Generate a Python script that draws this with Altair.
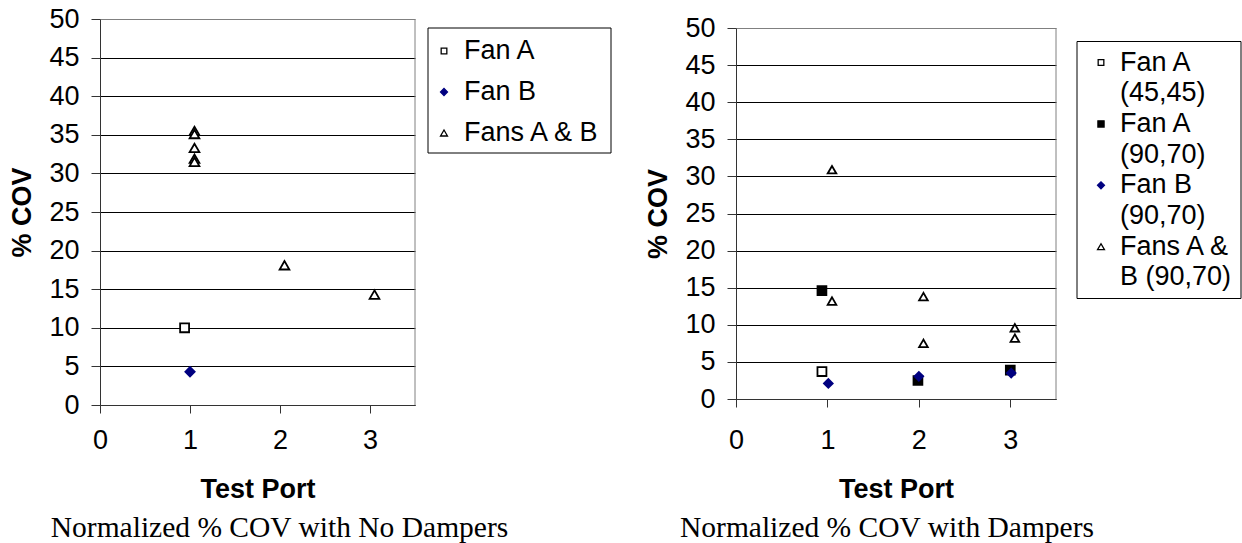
import altair as alt
import pandas as pd

# ---------------- data ----------------
# Left panel: Normalized % COV with No Dampers
left_series = ["Fan A", "Fan B", "Fans A & B"]
left_fan_a_port = [0.94]
left_fan_a_cov = [10.0]
left_fan_b_port = [1.0]
left_fan_b_cov = [4.3]
left_fans_ab_port = [1.05, 1.05, 1.05, 1.05, 1.05, 2.05, 3.05]
left_fans_ab_cov = [35.5, 35.1, 33.3, 31.9, 31.5, 18.1, 14.3]

# Right panel: Normalized % COV with Dampers
right_series = ["Fan A (45,45)", "Fan A (90,70)", "Fan B (90,70)", "Fans A & B (90,70)"]
right_legend_lines = [["Fan A", "(45,45)"], ["Fan A", "(90,70)"], ["Fan B", "(90,70)"], ["Fans A &", "B (90,70)"]]
right_fan_a45_port = [0.94]
right_fan_a45_cov = [3.7]
right_fan_a90_port = [0.94, 1.99, 3.0]
right_fan_a90_cov = [14.6, 2.5, 3.9]
right_fan_b_port = [1.01, 2.0, 3.01]
right_fan_b_cov = [2.1, 3.05, 3.5]
right_fans_ab_port = [1.05, 1.05, 2.05, 2.05, 3.05, 3.05]
right_fans_ab_cov = [30.9, 13.2, 13.8, 7.5, 9.6, 8.2]

x_ticks = [0, 1, 2, 3]
y_ticks = [0, 5, 10, 15, 20, 25, 30, 35, 40, 45, 50]
captions = ["Normalized % COV with No Dampers", "Normalized % COV with Dampers"]

NAVY = "#000080"
BORDER = "#808080"
SANS = "Liberation Sans"
SERIF = "Liberation Serif"


def long_frame(names, ports, covs):
    rows = []
    for order, (n, xs, ys) in enumerate(zip(names, ports, covs)):
        for x, y in zip(xs, ys):
            rows.append({"series": n, "port": x, "cov": y, "order": order})
    return pd.DataFrame(rows)


left_df = long_frame(left_series,
                     [left_fan_a_port, left_fan_b_port, left_fans_ab_port],
                     [left_fan_a_cov, left_fan_b_cov, left_fans_ab_cov])
right_df = long_frame(right_series,
                      [right_fan_a45_port, right_fan_a90_port, right_fan_b_port, right_fans_ab_port],
                      [right_fan_a45_cov, right_fan_a90_cov, right_fan_b_cov, right_fans_ab_cov])

# marker styles per series
left_style = {
    "shape": ["square", "diamond", "triangle-up"],
    "fill": ["white", NAVY, "white"],
    "stroke": ["black", NAVY, "black"],
    "size": [80, 95, 145],
    "legend_size": [32, 48, 48],
}
right_style = {
    "shape": ["square", "square", "diamond", "triangle-up"],
    "fill": ["white", "black", NAVY, "white"],
    "stroke": ["black", "black", NAVY, "black"],
    "size": [80, 75, 95, 145],
    "legend_size": [32, 38, 48, 48],
}

ONE = pd.DataFrame({"k": [0]})


def scatter(df, names, style, y_range, x_label_pad, x_title_pad):
    x_axis = alt.Axis(values=x_ticks, title="Test Port", grid=False, tickSize=8,
                      labelPadding=x_label_pad, titlePadding=x_title_pad, labelFlush=False,
                      labelFontSize=27, titleFontSize=27, format="d")
    y_axis = alt.Axis(values=y_ticks, title="% COV", grid=True, tickSize=9,
                      labelPadding=12, titlePadding=12, labelFlush=False,
                      labelFontSize=27, titleFontSize=27,
                      gridColor={"condition": {"test": "datum.value === 50", "value": BORDER},
                                 "value": "black"})
    return alt.Chart(df).mark_point(filled=True, strokeWidth=1.8, opacity=1).encode(
        x=alt.X("port:Q", scale=alt.Scale(domain=[0, 3.5], nice=False, zero=False), axis=x_axis),
        y=alt.Y("cov:Q", scale=alt.Scale(domain=[0, 50], nice=False, range=y_range), axis=y_axis),
        shape=alt.Shape("series:N", scale=alt.Scale(domain=names, range=style["shape"]), legend=None),
        fill=alt.Fill("series:N", scale=alt.Scale(domain=names, range=style["fill"]), legend=None),
        stroke=alt.Stroke("series:N", scale=alt.Scale(domain=names, range=style["stroke"]), legend=None),
        size=alt.Size("series:N", scale=alt.Scale(domain=names, range=style["size"]), legend=None),
        order=alt.Order("order:Q"),
    )


def right_border(w, top, bottom):
    return alt.Chart(ONE).mark_rule(color=BORDER, strokeWidth=1).encode(
        x=alt.value(w), y=alt.value(top), y2=alt.value(bottom))


def legend_layers(names, lines, style, box, sym_x, text_x, first_y, step, line_step):
    layers = [alt.Chart(ONE).mark_rect(fill="white", stroke="black", strokeWidth=1).encode(
        x=alt.value(box[0]), x2=alt.value(box[1]), y=alt.value(box[2]), y2=alt.value(box[3]))]
    for i, name in enumerate(names):
        y0 = first_y + i * step
        layers.append(alt.Chart(ONE).mark_point(
            shape=style["shape"][i], filled=True, fill=style["fill"][i], stroke=style["stroke"][i],
            strokeWidth=1.3, size=style["legend_size"][i], opacity=1).encode(
            x=alt.value(sym_x), y=alt.value(y0)))
        for j, line in enumerate(lines[i]):
            layers.append(alt.Chart(pd.DataFrame({"label": [line]})).mark_text(
                align="left", baseline="middle", font=SANS, fontSize=27, color="black").encode(
                text="label:N", x=alt.value(text_x), y=alt.value(y0 + j * line_step)))
    return layers


def caption(text, dx):
    return alt.TitleParams(text, orient="bottom", anchor="middle", frame="group",
                           font=SERIF, fontSize=29.5, fontWeight="normal", color="black",
                           dx=dx, offset=12)


# ---- left panel ----
LW, LH = 315, 386
left_pts = scatter(left_df, left_series, left_style, [LH, 0], 14, 23)
left_leg = legend_layers(left_series, [[n] for n in left_series], left_style,
                         (328, 511, 9, 134), 344, 364, 32, 41, 0)
left = alt.layer(left_pts, right_border(LW, 0, LH), *left_leg).properties(
    width=LW, height=LH, title=caption(captions[0], 22))

# ---- right panel (plot area starts 9 px lower than the left one) ----
RW, RH, RTOP = 320, 380, 9
right_pts = scatter(right_df, right_series, right_style, [RH, RTOP], 20, 23)
right_leg = legend_layers(right_series, right_legend_lines, right_style,
                          (341, 505, 22.5, 279.5), 365, 384, 43.5, 61.4, 30.7)
right = alt.layer(right_pts, right_border(RW, RTOP, RH), *right_leg).properties(
    width=RW, height=RH, title=caption(captions[1], -9))

chart = alt.hconcat(left, right, spacing=32).resolve_scale(
    y="independent", shape="independent", fill="independent", stroke="independent",
    size="independent"
).properties(
    padding={"left": 8, "top": 5, "right": 0, "bottom": 0},
    background="white",
).configure_view(
    stroke=None
).configure_axis(
    labelFont=SANS, titleFont=SANS, labelColor="black", titleColor="black",
    titleFontWeight="bold", domainColor="#333333", tickColor="#333333",
    domainWidth=1, tickWidth=1, gridWidth=1, gridOpacity=1,
)

chart.save("out.html", embed_options={"renderer": "svg", "actions": False})
